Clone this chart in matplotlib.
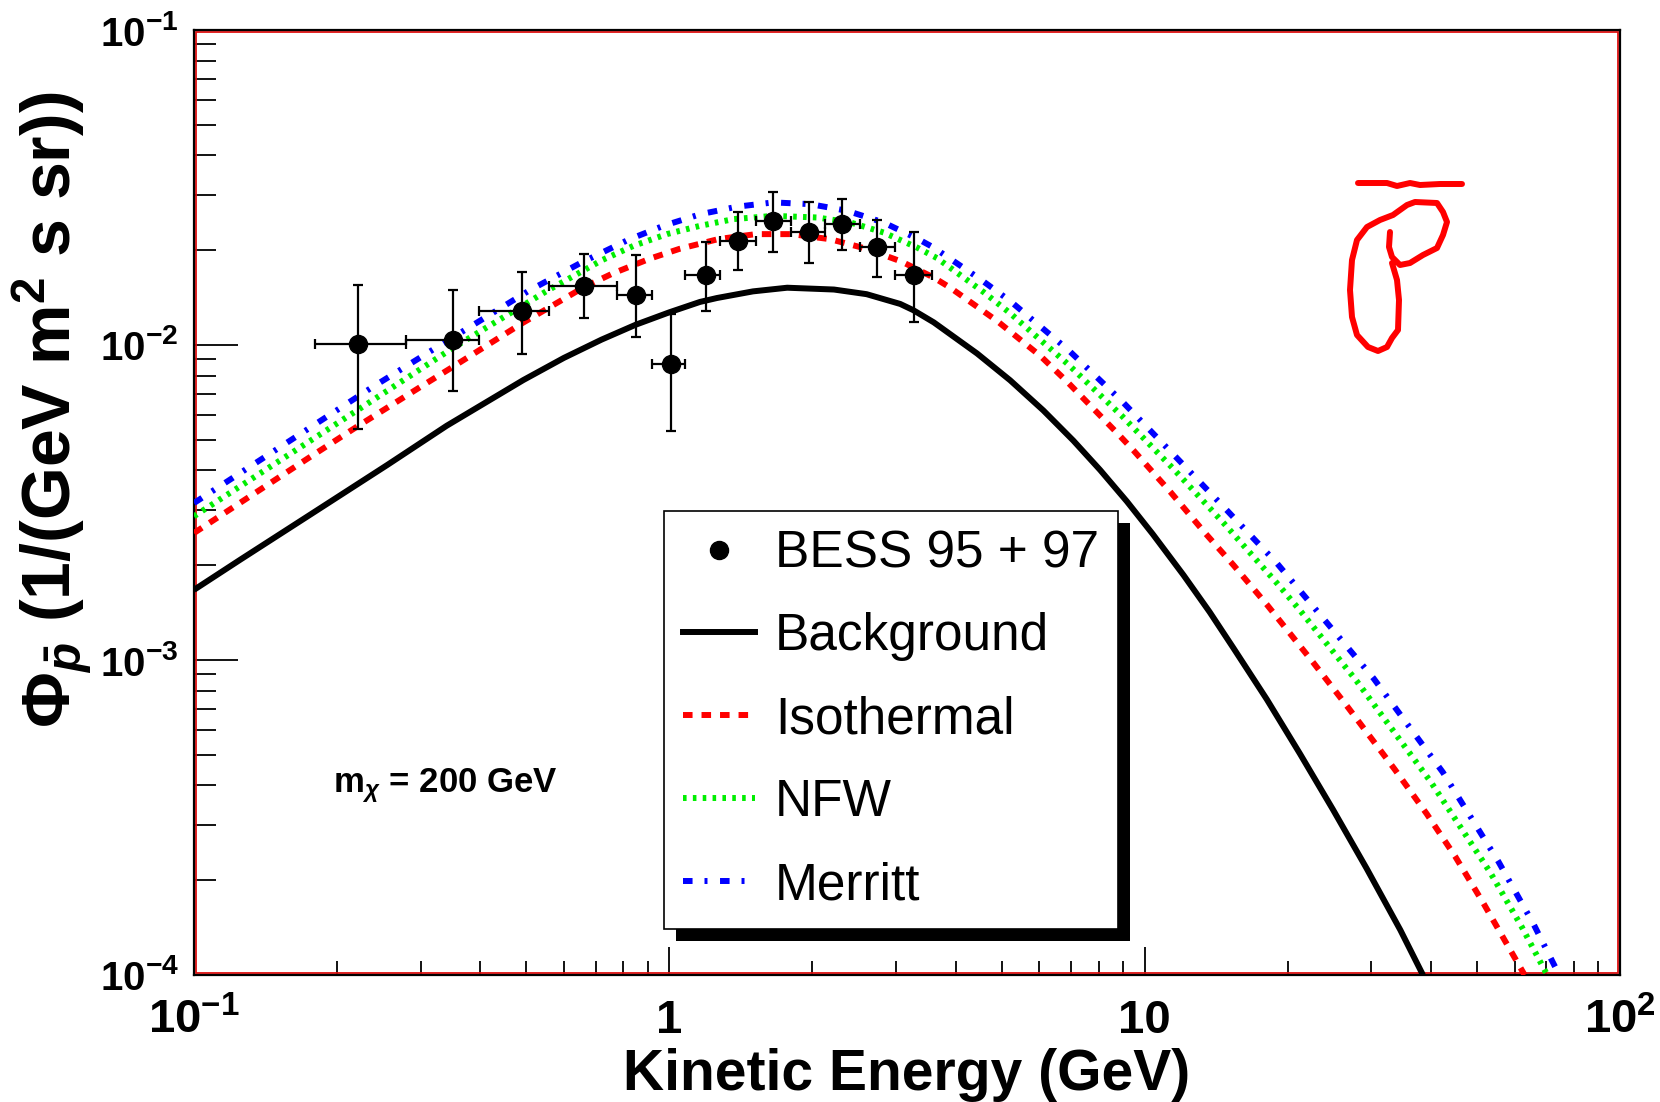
import numpy as np
import matplotlib
matplotlib.use('Agg')
import matplotlib.pyplot as plt
from matplotlib.lines import Line2D
from matplotlib.patches import Rectangle
from matplotlib.transforms import IdentityTransform
from matplotlib.ticker import LogLocator, NullFormatter

plt.rcParams['font.family'] = ['Liberation Sans', 'DejaVu Sans']
plt.rcParams['mathtext.fontset'] = 'custom'
plt.rcParams['mathtext.rm'] = 'Liberation Sans:bold'
plt.rcParams['mathtext.it'] = 'Liberation Sans:italic:bold'
plt.rcParams['mathtext.bf'] = 'Liberation Sans:bold'

# BESS 95 + 97 antiproton flux (GeV, 1/(GeV m2 s sr))
bess_x = [0.221, 0.351, 0.490, 0.660, 0.852, 1.009, 1.194, 1.393, 1.655, 1.963, 2.313, 2.734, 3.264]
bess_xlo = [0.180, 0.279, 0.398, 0.558, 0.776, 0.919, 1.080, 1.276, 1.520, 1.800, 2.130, 2.520, 2.985]
bess_xhi = [0.279, 0.398, 0.558, 0.776, 0.920, 1.080, 1.276, 1.520, 1.800, 2.130, 2.520, 2.985, 3.565]
bess_y = [0.01005, 0.0104, 0.0128, 0.0154, 0.0144, 0.00872, 0.0167, 0.0214, 0.0247, 0.0229, 0.0243, 0.0204, 0.0167]
bess_ylo = [0.00543, 0.00714, 0.00933, 0.0122, 0.0106, 0.00532, 0.0128, 0.0173, 0.0198, 0.0182, 0.0200, 0.0164, 0.0118]
bess_yhi = [0.0155, 0.0150, 0.0170, 0.0194, 0.0193, 0.0125, 0.0212, 0.0265, 0.0306, 0.0284, 0.0290, 0.0250, 0.0228]

# background
bg_x = [0.1, 0.125, 0.176, 0.255, 0.34, 0.493, 0.6, 0.72, 0.85, 1.0, 1.16, 1.26, 1.5, 1.77, 2.22, 2.6,
        3.06, 3.26, 3.6, 4.44, 5.21, 6.12, 7.08, 8.06, 9.17, 10.4, 12.07, 13.7, 15.38, 18.07, 21.2, 24.9,
        29.3, 34.5, 38.5]
bg_y = [0.00167, 0.00208, 0.0029, 0.00416, 0.00554, 0.00774, 0.0091, 0.0104, 0.0116, 0.0127, 0.0137,
        0.0141, 0.0148, 0.0152, 0.0150, 0.0145, 0.0135, 0.0129, 0.0118, 0.0094, 0.00773, 0.0062, 0.00497,
        0.00401, 0.00319, 0.00251, 0.00186, 0.00142, 0.00109, 0.00075, 0.000505, 0.000335, 0.000218,
        0.000139, 0.0001]

# isothermal
iso_x = [0.1, 0.173, 0.22, 0.299, 0.351, 0.49, 0.66, 0.76, 0.912, 1.05, 1.27, 1.52, 1.81, 2.18, 2.6, 3.08,
         3.6, 3.9, 4.89, 6.03, 6.85, 8.81, 9.47, 11.32, 13.4, 15.38, 18.07, 22.6, 26.8, 33.6, 39.2, 45.0,
         51.6, 63.0]
iso_y = [0.00253, 0.00435, 0.0055, 0.00735, 0.00854, 0.01172, 0.01524, 0.01687, 0.01882, 0.02019, 0.0217,
         0.02249, 0.02249, 0.02167, 0.0202, 0.0184, 0.01637, 0.0152, 0.01193, 0.00924, 0.00768, 0.0052,
         0.00463, 0.00342, 0.00253, 0.002, 0.0015, 0.000984, 0.000706, 0.000449, 0.000325, 0.000238,
         0.000169, 0.0001]

# NFW
nfw_x = [0.1, 0.224, 0.351, 0.553, 0.722, 0.841, 0.989, 1.161, 1.365, 1.655, 2.044, 2.403, 2.823, 3.318,
         3.656, 4.58, 5.21, 6.92, 8.95, 11.5, 14.76, 18.97, 21.2, 27.9, 40.0, 53.3, 62.0, 70.3]
nfw_y = [0.00286, 0.0063, 0.0098, 0.01486, 0.0186, 0.02065, 0.0225, 0.0239, 0.0251, 0.0257, 0.0254, 0.0245,
         0.02276, 0.0204, 0.01888, 0.01473, 0.01262, 0.00865, 0.00596, 0.00404, 0.00269, 0.001755, 0.00144,
         0.000859, 0.00041, 0.000212, 0.000143, 0.0001]

# Merritt
mer_x = [0.1, 0.235, 0.319, 0.506, 0.65, 0.821, 0.972, 1.161, 1.387, 1.655, 1.98, 2.364, 2.823, 3.34,
         3.596, 4.51, 5.21, 6.92, 8.95, 11.5, 14.76, 18.97, 30.3, 42.4, 55.5, 65.8, 74.5]
mer_y = [0.00315, 0.00728, 0.00969, 0.01486, 0.0182, 0.0216, 0.0239, 0.0260, 0.02748, 0.02836, 0.0280,
         0.02668, 0.02449, 0.02168, 0.0204, 0.01618, 0.0138, 0.00962, 0.00664, 0.00449, 0.00303, 0.00203,
         0.000875, 0.00044, 0.000229, 0.000145, 0.0001]

xtick_vals = [0.1, 1, 10, 100]
xtick_labels = ['10$^{-1}$', '1', '10', '10$^{2}$']
ytick_vals = [1e-4, 1e-3, 1e-2, 1e-1]
ytick_labels = ['10$^{-4}$', '10$^{-3}$', '10$^{-2}$', '10$^{-1}$']

# hand drawn pbar in the corner (figure pixels, y down)
scribble_bar = [(1358, 183), (1387, 183), (1397, 186), (1410, 183), (1420, 185), (1440, 184), (1462, 184)]
scribble_p = [(1390, 232), (1389, 247), (1392, 257), (1400, 265), (1410, 263), (1423, 255), (1437, 248),
              (1443, 235), (1447, 222), (1443, 212), (1437, 203), (1415, 202), (1407, 205), (1393, 215),
              (1380, 220), (1367, 227), (1357, 240), (1352, 260), (1350, 290), (1352, 317), (1357, 335),
              (1368, 347), (1378, 351), (1387, 347), (1392, 338), (1398, 330), (1399, 300), (1397, 280),
              (1392, 263)]

W, H = 1660, 1102
L, R, T, B = 194, 1620, 30, 975

fig = plt.figure(figsize=(W / 100, H / 100), dpi=100)
ax = fig.add_axes([L / W, (H - B) / H, (R - L) / W, (B - T) / H])
ax.set_xscale('log')
ax.set_yscale('log')
ax.set_xlim(0.1, 100)
ax.set_ylim(1e-4, 1e-1)

lw = 4.3
ax.plot(bg_x, bg_y, color='black', lw=lw, solid_capstyle='butt', solid_joinstyle='round', zorder=3)
ax.plot(iso_x, iso_y, color='#ff0000', lw=lw, dashes=(1.6, 1.5), zorder=3)
ax.plot(nfw_x, nfw_y, color='#00ee00', lw=lw, dashes=(0.6, 1.05), zorder=3)
ax.plot(mer_x, mer_y, color='#0000ff', lw=lw, dashes=(1.6, 2.0, 0.5, 2.1), zorder=3)

bx = np.array(bess_x)
by = np.array(bess_y)
xerr = [bx - np.array(bess_xlo), np.array(bess_xhi) - bx]
yerr = [by - np.array(bess_ylo), np.array(bess_yhi) - by]
ax.errorbar(bx, by, xerr=xerr, yerr=yerr, fmt='o', color='black', ms=13,
            elinewidth=1.6, capsize=3.6, capthick=1.6, zorder=4)

# axis frame: black outside, red inside
for s in ax.spines.values():
    s.set_linewidth(1.6)
    s.set_color('black')
ax.add_patch(Rectangle((0.0015, 0.002), 0.997, 0.996, transform=ax.transAxes,
                       fill=False, edgecolor='#e01010', lw=1.3, zorder=2.5))

ax.xaxis.set_minor_locator(LogLocator(base=10, subs=np.arange(2, 10)))
ax.yaxis.set_minor_locator(LogLocator(base=10, subs=np.arange(2, 10)))
ax.xaxis.set_minor_formatter(NullFormatter())
ax.yaxis.set_minor_formatter(NullFormatter())
ax.set_xticks(xtick_vals)
ax.set_xticklabels(xtick_labels, fontsize=34, fontweight='bold')
ax.set_yticks(ytick_vals)
ax.set_yticklabels(ytick_labels, fontsize=29, fontweight='bold')
ax.tick_params(which='both', direction='in', top=False, right=False, width=1.3)
ax.tick_params(axis='x', which='major', length=20, pad=17)
ax.tick_params(axis='x', which='minor', length=10)
ax.tick_params(axis='y', which='major', length=32, pad=11)
ax.tick_params(axis='y', which='minor', length=16)

ax.set_xlabel('Kinetic Energy (GeV)', fontsize=41, fontweight='bold', va='center')
ax.xaxis.set_label_coords(0.5, -(1075 - B) / (B - T))
ax.set_ylabel(r'$\Phi_{\bar{p}}$ (1/(GeV m$^{2}$ s sr))', fontsize=49, fontweight='bold',
              va='center')
ax.yaxis.set_label_coords(-(L - 52) / (R - L), (B - 410) / (B - T))

ax.text((333 - L) / (R - L), (B - 786) / (B - T), r'm$_{\chi}$ = 200 GeV', transform=ax.transAxes,
        fontsize=25, fontweight='bold', ha='left', va='center')

handles = [
    Line2D([], [], marker='o', ls='none', color='black', ms=13),
    Line2D([], [], color='black', lw=lw),
    Line2D([], [], color='#ff0000', lw=lw, dashes=(1.6, 1.5)),
    Line2D([], [], color='#00ee00', lw=lw, dashes=(0.6, 1.05)),
    Line2D([], [], color='#0000ff', lw=lw, dashes=(1.6, 2.0, 0.5, 2.1)),
]
labels = ['BESS 95 + 97', 'Background', 'Isothermal', 'NFW', 'Merritt']
leg = ax.legend(handles, labels, loc='upper left',
                bbox_to_anchor=((664 - L) / (R - L), (B - 511) / (B - T)),
                borderaxespad=0, fontsize=37, frameon=True, fancybox=False,
                framealpha=1, edgecolor='black', handlelength=1.42, handletextpad=0.38,
                borderpad=0.36, labelspacing=0.66)
leg.get_frame().set_linewidth(1.2)
leg.set_zorder(6)

# scribbled pbar
for stroke in (scribble_bar, scribble_p):
    sx = [(p[0] - L) / (R - L) for p in stroke]
    sy = [(B - p[1]) / (B - T) for p in stroke]
    ax.plot(sx, sy, color='#ff0000', lw=4.3, solid_capstyle='round', solid_joinstyle='round',
            transform=ax.transAxes, zorder=5)

# black drop shadow behind the legend
fig.canvas.draw()
bb = leg.get_window_extent()
ax.add_patch(Rectangle((bb.x0 + 12, bb.y0 - 12), bb.width, bb.height, transform=IdentityTransform(),
                       facecolor='black', edgecolor='none', zorder=5.5))

fig.savefig('out.png', dpi=100)
